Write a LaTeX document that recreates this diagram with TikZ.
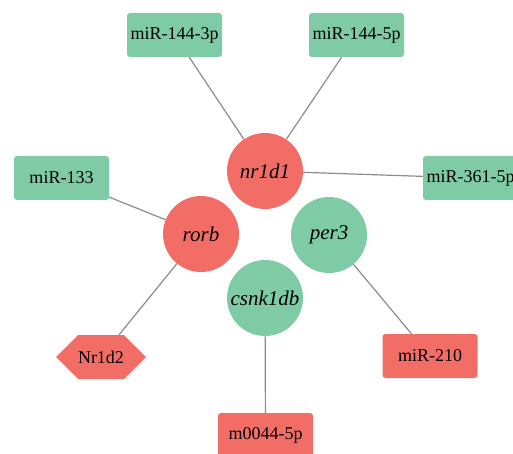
\documentclass[tikz,border=0pt]{standalone}
\usepackage{fontspec}
\setmainfont{Liberation Serif}
\usetikzlibrary{shapes.symbols}
\definecolor{gr}{RGB}{126,203,165}
\definecolor{rd}{RGB}{243,109,103}
\definecolor{ed}{RGB}{140,140,140}
\tikzset{
  box/.style={rectangle, rounded corners=3pt, minimum width=95pt, minimum height=44pt, inner sep=0pt, font=\fontsize{18}{20}\selectfont},
  gbox/.style={box, fill=gr},
  rbox/.style={box, fill=rd},
  gene/.style={circle, minimum size=76pt, inner sep=0pt, font=\fontsize{21}{23}\selectfont\itshape},
  ggene/.style={gene, fill=gr},
  rgene/.style={gene, fill=rd},
  hexa/.style={signal, signal to=west and east, signal pointer angle=90, fill=rd, minimum width=88pt, minimum height=44pt, inner sep=0pt, font=\fontsize{18}{20}\selectfont},
  link/.style={draw=ed, line width=1.2pt}
}
\begin{document}
\begin{tikzpicture}[x=1pt,y=-1pt]
\useasboundingbox (0,0) rectangle (513,454);
\begin{scope}
\clip (0,0) rectangle (513,454);
\node[gbox] (m1443) at (174.5,35) {miR-144-3p};
\node[gbox] (m1445) at (356.5,35) {miR-144-5p};
\node[gbox] (m133) at (61.5,178) {miR-133};
\node[gbox] (m361) at (470.5,178) {miR-361-5p};
\node[rgene] (nr1d1) at (265,171) {nr1d1};
\node[rgene] (rorb) at (201,234) {rorb};
\node[ggene] (per3) at (329,235) {per3};
\node[ggene] (csnk) at (265,298) {csnk1db};
\node[hexa] (nr1d2) at (101,357) {Nr1d2};
\node[rbox] (m210) at (430,356) {miR-210};
\node[rbox] (m0044) at (265.5,435) {m0044-5p};
\draw[link] (nr1d1) -- (m1443);
\draw[link] (nr1d1) -- (m1445);
\draw[link] (nr1d1) -- (m361);
\draw[link] (rorb) -- (m133);
\draw[link] (rorb) -- (nr1d2);
\draw[link] (csnk) -- (m0044);
\draw[link] (per3) -- (m210);
\end{scope}
\end{tikzpicture}
\end{document}
